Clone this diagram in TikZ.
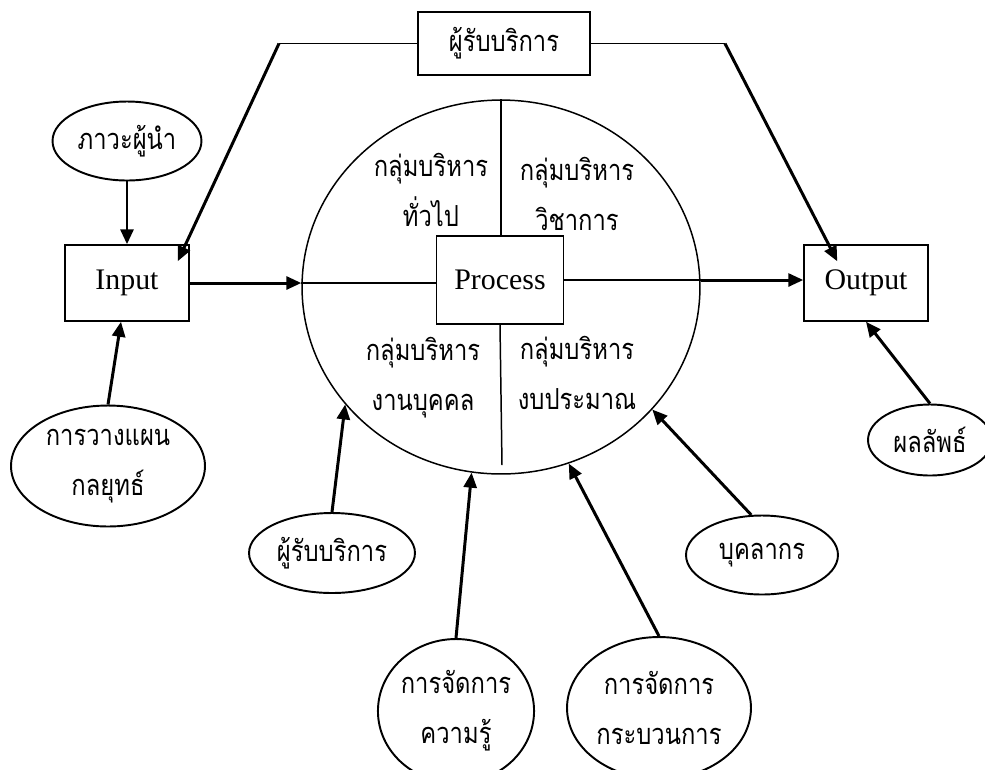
\documentclass[tikz,border=0pt]{standalone}
\usepackage{fontspec}
\setmainfont{Liberation Serif}
\newfontfamily\thaifont[Script=Thai,FakeStretch=0.82]{Loma}
\usetikzlibrary{shapes.geometric,arrows.meta}

\begin{document}
\begin{tikzpicture}[x=0.02cm, y=-0.02cm,
	arr/.style={line width=1.7pt, -{Triangle[length=0.3cm,width=0.26cm]}},
	thinline/.style={line width=0.85pt},
	thai/.style={font=\thaifont\fontsize{16.5}{28.5}\selectfont, align=center},
	latin/.style={font=\fontsize{17}{20}\selectfont}]
	\useasboundingbox (0,0) rectangle (985,769);
	\clip (0,0) rectangle (985,769);
	\begin{scope} [every node/.style={draw, line width=0.85pt, inner sep=0pt}]
		\node[thai, minimum width=3.44cm, minimum height=1.26cm] (top) at (504,43.5){ผู้รับบริการ};
		\node[latin, minimum width=2.48cm, minimum height=1.52cm] (inp) at (127,283){Input};
		\node[latin, minimum width=2.54cm, minimum height=1.76cm] (proc) at (500,280){Process};
		\node[latin, minimum width=2.48cm, minimum height=1.52cm] (out) at (866,283){Output};
		\node[ellipse, minimum width=7.96cm, minimum height=7.48cm] (circ) at (501,287){};
	\end{scope}
	\begin{scope} [every node/.style={ellipse, draw, line width=1.1pt, inner sep=0pt, thai}]
		\node[minimum width=2.98cm, minimum height=1.58cm] (lead) at (127,141){ภาวะผู้นำ};
		\node[minimum width=3.88cm, minimum height=2.42cm] (plan) at (108,466){การวางแผน\\กลยุทธ์};
		\node[minimum width=3.32cm, minimum height=1.6cm] (cust) at (332,553){ผู้รับบริการ};
		\node[minimum width=3.08cm, minimum height=2.88cm] (know) at (456,711){การจัดการ\\ความรู้};
		\node[minimum width=3.68cm, minimum height=2.84cm] (pmgt) at (659,708){การจัดการ\\กระบวนการ};
		\node[minimum width=3.04cm, minimum height=1.58cm] (staff) at (762,555){บุคลากร};
		\node[minimum width=2.48cm, minimum height=1.42cm] (res) at (930,440){ผลลัพธ์};
	\end{scope}
	% quarters of the circle
	\node[thai] (q1) at (431,190){กลุ่มบริหาร\\ทั่วไป};
	\node[thai] (q2) at (577,194){กลุ่มบริหาร\\วิชาการ};
	\node[thai] (q3) at (423,378){กลุ่มบริหาร\\งานบุคคล};
	\node[thai] (q4) at (577,373){กลุ่มบริหาร\\งบประมาณ};
	\coordinate (bendL) at (279,43.5);
	\coordinate (bendR) at (725,43.5);
	\coordinate (bot) at (502,465);
	\draw[thinline] (top.west) -- (bendL);
	\draw[arr] (bendL) -- ([shift={(-12,17)}]inp.north east);
	\draw[thinline] (top.east) -- (bendR);
	\draw[arr] (bendR) -- ([shift={(34,17)}]out.north west);
	\draw[thinline] (circ.north) -- (circ.north |- proc.north);
	\draw[thinline] (proc.south) -- (bot);
	\draw[arr] (inp.east) -- (inp.east -| circ.west);
	\draw[thinline] (inp.east -| circ.west) -- (inp.east -| proc.west);
	\draw[thinline] (proc.east) -- (proc.east -| circ.east);
	\draw[arr] (proc.east -| circ.east) -- (proc.east -| out.west);
	\draw[arr] (lead.south) -- (inp.north);
	\draw[arr] (plan.north) -- ([shift={(-6,0)}]inp.south);
	\draw[arr] (res.north) -- (out.south);
	\draw[arr] (cust.north) -- (circ.217);
	\draw[arr] (know.north) -- (circ.261);
	\draw[arr] (pmgt.north) -- (circ.291);
	\draw[arr] (staff.105) -- (circ.321);
\end{tikzpicture}
\end{document}
